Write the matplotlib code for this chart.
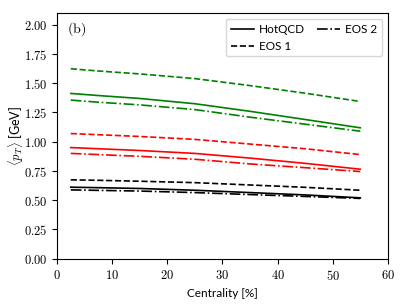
import numpy as np
import matplotlib.pyplot as plt
from matplotlib.ticker import FuncFormatter

plt.rcParams['mathtext.fontset'] = 'cm'
plt.rcParams['font.family'] = ['Lato', 'DejaVu Sans']

centrality = [2.5, 7.5, 15, 25, 35, 45, 55]

# <pT> per species (black, red, green) and EoS
black_hotqcd = [0.611, 0.607, 0.600, 0.585, 0.565, 0.545, 0.520]
black_eos1 = [0.674, 0.670, 0.662, 0.650, 0.630, 0.610, 0.585]
black_eos2 = [0.588, 0.584, 0.578, 0.565, 0.548, 0.532, 0.515]

red_hotqcd = [0.950, 0.940, 0.925, 0.900, 0.860, 0.815, 0.765]
red_eos1 = [1.070, 1.060, 1.045, 1.020, 0.980, 0.940, 0.890]
red_eos2 = [0.900, 0.890, 0.875, 0.850, 0.810, 0.778, 0.745]

green_hotqcd = [1.413, 1.395, 1.370, 1.325, 1.260, 1.190, 1.119]
green_eos1 = [1.624, 1.605, 1.580, 1.540, 1.480, 1.415, 1.344]
green_eos2 = [1.356, 1.338, 1.315, 1.275, 1.210, 1.150, 1.090]

fig = plt.figure(figsize=(4.07, 3.05), dpi=100)
ax = fig.add_axes([0.14, 0.152, 0.813, 0.805])

lw = 1.2
groups = [
    ("black", black_hotqcd, black_eos1, black_eos2),
    ("red", red_hotqcd, red_eos1, red_eos2),
    ("green", green_hotqcd, green_eos1, green_eos2),
]
for color, hq, e1, e2 in groups:
    ax.plot(centrality, hq, color=color, ls="-", lw=lw)
    ax.plot(centrality, e1, color=color, ls="--", lw=lw)
    ax.plot(centrality, e2, color=color, ls="-.", lw=lw)

# legend proxies
h1, = ax.plot([], [], color="black", ls="-", lw=lw, label="HotQCD")
h2, = ax.plot([], [], color="black", ls="--", lw=lw, label="EOS 1")
h3, = ax.plot([], [], color="black", ls="-.", lw=lw, label="EOS 2")
ax.legend(handles=[h1, h2, h3], loc="upper right", ncol=2, fontsize=8.5,
          handlelength=2.0, columnspacing=1.0, handletextpad=0.4,
          borderaxespad=0.5)

ax.set_xlim(0, 60)
ax.set_ylim(0, 2.1)
ax.set_xticks([0, 10, 20, 30, 40, 50, 60])
ax.set_yticks(np.arange(0, 2.01, 0.25))
ax.xaxis.set_major_formatter(FuncFormatter(lambda v, p: r"$%d$" % v))
ax.yaxis.set_major_formatter(FuncFormatter(lambda v, p: r"$%.2f$" % v))
ax.tick_params(labelsize=9)

ax.set_xlabel("Centrality [%]", fontsize=8.5)
ax.set_ylabel(r"$\langle p_T\rangle$ [GeV]", fontsize=9)
ax.yaxis.set_label_coords(-0.095, 0.5)
ax.text(0.03, 0.97, r"$\mathrm{(b)}$", transform=ax.transAxes,
        ha="left", va="top", fontsize=10)

fig.savefig("out.png", dpi=100)
